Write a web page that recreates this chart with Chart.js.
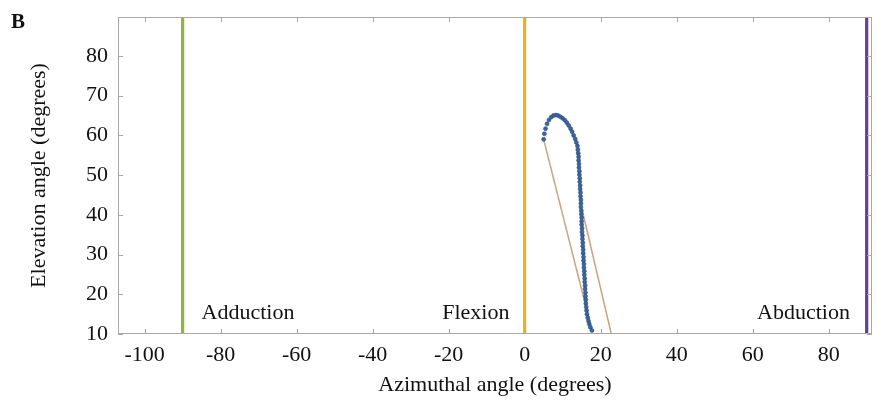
<!DOCTYPE html>
<html>
<head>
<meta charset="utf-8">
<script src="https://cdn.jsdelivr.net/npm/chart.js@4.4.1/dist/chart.umd.min.js"></script>
<style>
  html, body { margin: 0; padding: 0; background: #ffffff; }
  #wrap { width: 877px; height: 404px; position: relative; }
</style>
</head>
<body>
<div id="wrap"><canvas id="c" width="877" height="404"></canvas></div>
<script>
// ---- data ----
const xTickValues = [-100, -80, -60, -40, -20, 0, 20, 40, 60, 80];
const yTickValues = [10, 20, 30, 40, 50, 60, 70, 80];
const refAngles = [-90, 0, 90];
const refNames = ['Adduction', 'Flexion', 'Abduction'];
const trajX = [5.0, 5.2, 5.5, 5.9, 6.4, 7.0, 7.6, 8.2, 8.8, 9.4, 10.0, 10.6, 11.1, 11.6, 12.1, 12.5, 12.9, 13.3, 13.6, 13.9,
  14.0, 14.1, 14.2, 14.2, 14.3, 14.3, 14.4, 14.4, 14.5, 14.5, 14.6, 14.6, 14.7, 14.7, 14.8, 14.8, 14.8, 14.9, 14.9, 15.0,
  15.0, 15.0, 15.1, 15.1, 15.2, 15.2, 15.3, 15.3, 15.4, 15.4, 15.5, 15.5, 15.6, 15.6, 15.7, 15.7, 15.8, 15.8, 15.9, 15.9,
  16.0, 16.0, 16.1, 16.1, 16.2, 16.3, 16.4, 16.6, 16.8, 17.0, 17.3, 17.7];
const trajY = [59.0, 60.4, 61.7, 62.9, 63.9, 64.6, 65.0, 65.1, 65.0, 64.7, 64.3, 63.8, 63.2, 62.5, 61.7, 60.9, 60.0, 59.1, 58.2, 57.3,
  56.4, 55.5, 54.6, 53.7, 52.8, 51.9, 51.0, 50.1, 49.2, 48.3, 47.4, 46.5, 45.6, 44.7, 43.8, 42.9, 42.0, 41.1, 40.2, 39.3,
  38.4, 37.5, 36.6, 35.7, 34.8, 33.9, 33.0, 32.1, 31.2, 30.3, 29.4, 28.5, 27.6, 26.7, 25.8, 24.9, 24.0, 23.1, 22.2, 21.3,
  20.4, 19.5, 18.6, 17.7, 16.8, 15.9, 15.0, 14.1, 13.3, 12.5, 11.7, 10.9];
const fitAX = [5.0, 17.7];
const fitAY = [59.0, 10.9];
const fitBX = [15.2, 22.8];
const fitBY = [41.0, 10.0];

// ---- layout / style ----
const FONT = '"Liberation Serif", "Times New Roman", serif';
const refColors = ['#8cb63c', '#e6b422', '#6a3d8e'];
const labelPlace = [
  { x: -85, y: 15.3, align: 'left' },
  { x: -4, y: 15.3, align: 'right' },
  { x: 85.6, y: 15.3, align: 'right' }
];

const pts = (xs, ys) => xs.map((x, i) => ({ x: x, y: ys[i] }));

const datasets = [];
refAngles.forEach((a, i) => {
  datasets.push({
    data: [{ x: a, y: 10 }, { x: a, y: 90 }],
    showLine: true, borderColor: refColors[i], borderWidth: 3.2,
    pointRadius: 0, order: 3
  });
});
datasets.push({
  data: pts(fitAX, fitAY), showLine: true, borderColor: '#c9a27f', borderWidth: 1.5, pointRadius: 0, order: 2
});
datasets.push({
  data: pts(fitBX, fitBY), showLine: true, borderColor: '#c9a27f', borderWidth: 1.5, pointRadius: 0, order: 2
});
datasets.push({
  data: pts(trajX, trajY), showLine: false, pointRadius: 2.0,
  backgroundColor: '#3a669e', borderColor: '#2a4a78', borderWidth: 0.6, order: 0
});

const framePlugin = {
  id: 'frame',
  afterDraw(chart) {
    const { ctx, chartArea: ca, scales } = chart;
    ctx.save();
    ctx.strokeStyle = '#a8a8a8';
    ctx.lineWidth = 1;
    ctx.strokeRect(ca.left + 0.5, ca.top + 0.5, ca.right - ca.left - 1, ca.bottom - ca.top - 1);
    ctx.beginPath();
    xTickValues.forEach(v => {
      const px = Math.round(scales.x.getPixelForValue(v)) + 0.5;
      ctx.moveTo(px, ca.bottom); ctx.lineTo(px, ca.bottom - 5);
      ctx.moveTo(px, ca.top); ctx.lineTo(px, ca.top + 5);
    });
    yTickValues.forEach(v => {
      const py = Math.round(scales.y.getPixelForValue(v)) + 0.5;
      ctx.moveTo(ca.left, py); ctx.lineTo(ca.left + 5, py);
      ctx.moveTo(ca.right, py); ctx.lineTo(ca.right - 5, py);
    });
    ctx.stroke();
    // region labels
    ctx.fillStyle = '#111';
    ctx.font = '22px ' + FONT;
    ctx.textBaseline = 'middle';
    refNames.forEach((n, i) => {
      const p = labelPlace[i];
      ctx.textAlign = p.align;
      ctx.fillText(n, scales.x.getPixelForValue(p.x), scales.y.getPixelForValue(p.y));
    });
    // panel letter
    ctx.font = 'bold 21px ' + FONT;
    ctx.textAlign = 'left';
    ctx.textBaseline = 'alphabetic';
    ctx.fillText('B', 11, 28);
    ctx.restore();
  }
};

new Chart(document.getElementById('c'), {
  type: 'scatter',
  data: { datasets: datasets },
  options: {
    responsive: false,
    animation: false,
    layout: { padding: { top: 17, right: 5, bottom: 0, left: 0 } },
    plugins: { legend: { display: false }, tooltip: { enabled: false } },
    scales: {
      x: {
        type: 'linear', min: -107, max: 91.4,
        afterBuildTicks: s => { s.ticks = xTickValues.map(v => ({ value: v })); },
        afterFit: s => { s.height = 70; s.paddingLeft = 0; s.paddingRight = 0; },
        grid: { display: false, drawTicks: false },
        border: { display: false },
        ticks: { color: '#111', font: { family: FONT, size: 22 }, padding: 8, maxRotation: 0, autoSkip: false },
        title: { display: true, text: 'Azimuthal angle (degrees)', color: '#111', font: { family: FONT, size: 22 }, padding: { top: 0, bottom: 6 } }
      },
      y: {
        type: 'linear', min: 10, max: 89.8,
        afterBuildTicks: s => { s.ticks = yTickValues.map(v => ({ value: v })); },
        afterFit: s => { s.width = 118; s.paddingTop = 0; s.paddingBottom = 0; },
        grid: { display: false, drawTicks: false },
        border: { display: false },
        ticks: { color: '#111', font: { family: FONT, size: 22 }, padding: 10, autoSkip: false },
        title: { display: true, text: 'Elevation angle (degrees)', color: '#111', font: { family: FONT, size: 22 }, padding: { top: 26, bottom: 0 } }
      }
    }
  },
  plugins: [framePlugin]
});
</script>
</body>
</html>
